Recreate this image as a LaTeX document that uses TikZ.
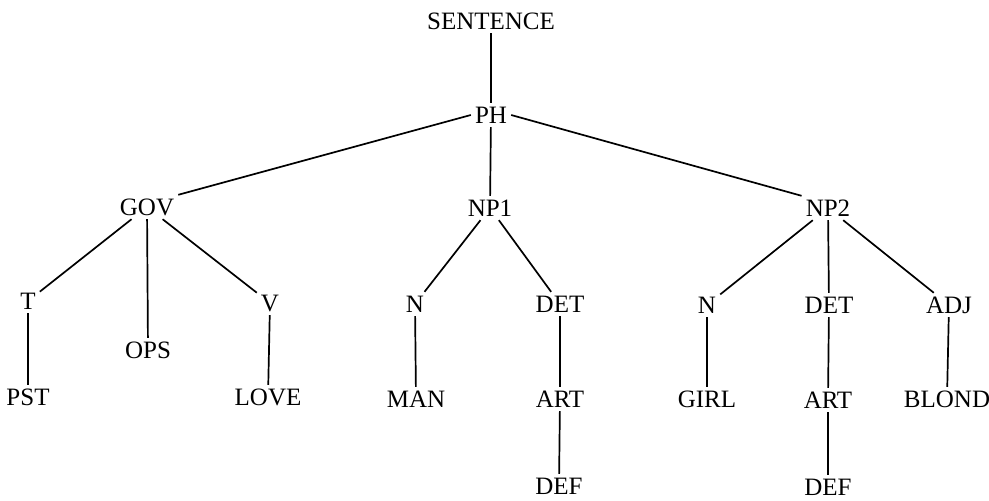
\documentclass[tikz,border=0pt]{standalone}
\usepackage{fontspec}
\setmainfont{Liberation Serif}
\begin{document}
\begin{tikzpicture}[x=1pt,y=-1pt,
  lab/.style={font=\fontsize{25}{27}\selectfont, inner sep=4pt, text height=16pt, text depth=0pt},
  edge/.style={line width=1.7pt}]
\useasboundingbox (0,0) rectangle (989,501);
\node[lab] (S) at (491,21) {SENTENCE};
\node[lab] (PH) at (491,115) {PH};
\node[lab] (GOV) at (147,207) {GOV};
\node[lab] (NPa) at (490,208) {NP1};
\node[lab] (NPb) at (828,208) {NP2};
\node[lab] (T) at (28,301) {T};
\node[lab] (OPS) at (148,350) {OPS};
\node[lab] (V) at (270,303) {V};
\node[lab] (Na) at (415,304) {N};
\node[lab] (DETa) at (560,304) {DET};
\node[lab] (Nb) at (707,305) {N};
\node[lab] (DETb) at (829,305) {DET};
\node[lab] (ADJ) at (949,305) {ADJ};
\node[lab] (PST) at (28,397) {PST};
\node[lab] (LOVE) at (268,397) {LOVE};
\node[lab] (MAN) at (416,399) {MAN};
\node[lab] (ARTa) at (560,399) {ART};
\node[lab] (GIRL) at (707,399) {GIRL};
\node[lab] (ARTb) at (828,400) {ART};
\node[lab] (BLOND) at (947,399) {BLOND};
\node[lab] (DEFa) at (559,486) {DEF};
\node[lab] (DEFb) at (828,487) {DEF};
\draw[edge] (S) -- (PH);
\draw[edge] (PH.west) -- (GOV.north east);
\draw[edge] (PH) -- (NPa);
\draw[edge] (PH.east) -- (NPb.north west);
\draw[edge] (GOV) -- (T);
\draw[edge] (GOV) -- (OPS);
\draw[edge] (GOV) -- (V);
\draw[edge] (NPa) -- (Na);
\draw[edge] (NPa) -- (DETa);
\draw[edge] (NPb) -- (Nb);
\draw[edge] (NPb) -- (DETb);
\draw[edge] (NPb) -- (ADJ);
\draw[edge] (T) -- (PST);
\draw[edge] (V) -- (LOVE);
\draw[edge] (Na) -- (MAN);
\draw[edge] (DETa) -- (ARTa);
\draw[edge] (ARTa) -- (DEFa);
\draw[edge] (Nb) -- (GIRL);
\draw[edge] (DETb) -- (ARTb);
\draw[edge] (ARTb) -- (DEFb);
\draw[edge] (ADJ) -- (BLOND);
\end{tikzpicture}
\end{document}
